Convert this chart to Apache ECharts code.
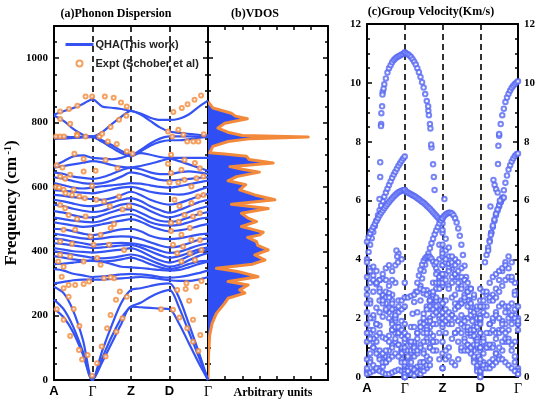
<!DOCTYPE html>
<html>
<head>
<meta charset="utf-8">
<script src="https://cdn.jsdelivr.net/npm/echarts@6/dist/echarts.min.js"></script>
<style>
  html, body { margin: 0; padding: 0; background: #fff; }
  #main { width: 538px; height: 400px; }
</style>
</head>
<body>
<div id="main"></div>
<script>
// path positions A, Γ, Z, D, Γ -> 0..4
var pathLabels = ['A', 'Γ', 'Z', 'D', 'Γ'];

// (a) dispersion: frequency (cm-1) of each band sampled at these path points
var bandK = [0, 0.25, 0.5, 0.75, 1, 1.25, 1.5, 1.75, 2, 2.25, 2.5, 2.75, 3, 3.25, 3.5, 3.75, 4];
var bandFreqs = [
  [825, 835, 845, 858, 872, 850, 846, 842, 836, 828, 815, 808, 808, 812, 825, 848, 868],
  [822, 805, 780, 762, 757, 770, 795, 818, 836, 825, 805, 785, 772, 768, 765, 762, 760],
  [757, 756, 755, 756, 757, 745, 730, 712, 700, 715, 735, 750, 757, 757, 757, 756, 755],
  [750, 750, 752, 754, 755, 740, 722, 705, 695, 710, 728, 740, 745, 745, 748, 752, 755],
  [665, 680, 695, 698, 690, 688, 686, 690, 700, 705, 700, 693, 690, 690, 690, 690, 690],
  [660, 665, 670, 675, 680, 676, 668, 662, 660, 665, 672, 680, 688, 680, 670, 660, 650],
  [645, 640, 632, 628, 625, 630, 640, 652, 660, 655, 645, 640, 640, 645, 648, 645, 640],
  [630, 625, 618, 612, 610, 612, 620, 632, 645, 640, 630, 622, 620, 622, 625, 628, 630],
  [612, 605, 598, 595, 598, 602, 605, 608, 612, 610, 605, 600, 598, 602, 608, 614, 620],
  [590, 588, 585, 582, 580, 585, 592, 598, 600, 594, 585, 580, 578, 576, 580, 590, 600],
  [575, 572, 568, 565, 562, 560, 565, 575, 585, 575, 560, 550, 545, 550, 560, 570, 578],
  [560, 555, 548, 542, 540, 545, 552, 560, 565, 556, 540, 528, 520, 528, 540, 552, 560],
  [545, 540, 532, 526, 522, 525, 535, 545, 548, 540, 525, 512, 505, 512, 522, 532, 540],
  [525, 520, 512, 506, 505, 512, 522, 530, 530, 520, 505, 495, 492, 495, 505, 515, 522],
  [505, 500, 495, 492, 490, 495, 505, 512, 515, 505, 490, 482, 480, 482, 490, 500, 505],
  [490, 485, 480, 476, 478, 484, 490, 495, 500, 492, 478, 468, 462, 465, 470, 478, 485],
  [470, 468, 462, 455, 450, 455, 462, 468, 470, 462, 448, 440, 438, 440, 446, 452, 455],
  [455, 450, 445, 440, 438, 440, 445, 446, 445, 438, 428, 418, 412, 415, 425, 435, 440],
  [440, 436, 430, 425, 420, 422, 425, 426, 425, 420, 412, 402, 395, 398, 408, 418, 425],
  [425, 422, 418, 414, 410, 412, 415, 418, 420, 412, 400, 388, 380, 385, 395, 405, 412],
  [410, 405, 400, 398, 396, 398, 402, 405, 410, 400, 385, 372, 365, 372, 385, 398, 405],
  [400, 395, 390, 385, 380, 378, 380, 385, 390, 384, 372, 360, 352, 358, 372, 385, 395],
  [385, 380, 375, 372, 370, 368, 370, 375, 380, 372, 360, 350, 345, 350, 360, 368, 370],
  [360, 362, 365, 368, 372, 368, 360, 352, 350, 348, 345, 342, 340, 342, 350, 360, 368],
  [345, 340, 330, 325, 320, 322, 325, 328, 330, 328, 325, 320, 318, 320, 325, 332, 340],
  [300, 305, 310, 312, 312, 312, 314, 316, 318, 320, 318, 314, 310, 308, 308, 312, 320],
  [222, 195, 148, 80, 0, 55, 115, 175, 228, 226, 224, 222, 220, 175, 115, 55, 0],
  [250, 220, 165, 88, 0, 68, 135, 192, 228, 240, 258, 272, 280, 225, 150, 75, 0],
  [290, 270, 215, 125, 0, 90, 170, 240, 280, 285, 292, 298, 300, 255, 175, 90, 0]
];

// experiment points [path position, frequency]
var exptPts = [
  [0.16, 834], [0.39, 842], [0.61, 852], [0.82, 881], [0.99, 881], [1.32, 881], [1.55, 877], [1.74, 862], [1.89, 850],
  [0.16, 811], [0.42, 796], [0.6, 764], [0.05, 757], [0.16, 757], [0.26, 757], [0.6, 760], [0.82, 757], [1.18, 757],
  [1.25, 765], [1.47, 786], [1.69, 809], [1.88, 821], [1.4, 741], [1.63, 733], [1.89, 710], [2.04, 703],
  [3.1, 833], [3.32, 845], [3.47, 857], [3.65, 871], [3.82, 884],
  [2.96, 772], [3.23, 778], [3.07, 757], [3.36, 762], [3.46, 741], [3.62, 741], [3.75, 741], [3.89, 764],
  [0.53, 703], [0.77, 687], [1.34, 684], [1.65, 658], [1.08, 650], [0.16, 632], [0.29, 625], [0.42, 638], [0.77, 648],
  [0.99, 603], [0.25, 591], [0.51, 591], [1.69, 570], [0.16, 544], [0.29, 534], [0.38, 513], [0.6, 500], [0.82, 508], [1.56, 485],
  [0.07, 667], [0.22, 660], [0.05, 600], [0.13, 598], [0.3, 580], [0.47, 575], [0.66, 570], [0.8, 565], [1.1, 560],
  [1.3, 555], [1.45, 540], [1.78, 530], [1.95, 540],
  [3.04, 700], [3.39, 684], [3.66, 674], [3.79, 658], [2.96, 672], [3.31, 653], [3.04, 643], [3.39, 622], [3.57, 601],
  [3.7, 627], [3.88, 632], [3.23, 614], [3.0, 614], [3.13, 560], [3.26, 541], [3.57, 550], [3.74, 570], [3.88, 575],
  [3.39, 513], [3.61, 508], [3.79, 518], [3.04, 489], [3.24, 492],
  [0.25, 467], [0.55, 467], [0.95, 446], [1.21, 451], [1.47, 472], [0.16, 430], [0.47, 423], [1.03, 420], [1.43, 420],
  [1.82, 404], [0.16, 389], [0.42, 384], [0.77, 368], [1.12, 379], [1.21, 358], [0.2, 321], [0.38, 295], [0.55, 295],
  [0.77, 298], [1.3, 316], [1.56, 316], [0.11, 368], [0.25, 352],
  [3.31, 368], [3.66, 373], [3.2, 394], [3.53, 394], [3.83, 404], [3.57, 435], [3.79, 435], [3.31, 451], [3.04, 463],
  [3.53, 472], [3.09, 420], [3.35, 415],
  [0.07, 220], [0.25, 187], [0.42, 137], [0.65, 93], [0.73, 64], [0.87, 78], [0.99, 13], [0.66, 168], [0.51, 221],
  [0.38, 259], [0.25, 285], [1.12, 52], [1.24, 104], [1.34, 73], [1.38, 161], [1.47, 202], [1.61, 249], [1.71, 275],
  [1.62, 150], [1.78, 192], [1.89, 259], [0.91, 306], [1.47, 319],
  [2.78, 220], [3.09, 218], [3.26, 194], [3.46, 161], [3.61, 119], [3.75, 90], [3.8, 140], [3.2, 280], [3.42, 283],
  [3.51, 246], [3.61, 187], [3.7, 290], [3.83, 308], [3.44, 301]
];

// (b) VDOS profile: frequency and density (arb. units)
var dosFreq = [0, 78, 140, 176, 207, 239, 254, 270, 280, 295, 306, 321, 337, 347, 360, 373, 389, 404, 418, 430,
  443, 451, 459, 468, 477, 492, 503, 518, 533, 546, 560, 575, 591, 607, 619, 632, 646, 655, 663, 674,
  685, 695, 702, 706, 726, 741, 750, 755, 760, 770, 783, 798, 812, 820, 829, 845, 865];
var dosVal = [0, 0.03, 0.1, 0.24, 0.49, 0.98, 1.17, 2.15, 1.85, 2.34, 1.17, 2.92, 1.73, 0.49, 2.6, 3.32, 2.73, 3.51, 2.9, 2.83,
  2.31, 3.03, 3.22, 2.6, 1.95, 2.83, 2.34, 1.95, 3.51, 1.37, 3.9, 2.73, 1.85, 2.2, 1.17, 1.66, 3.0, 2.0, 1.28, 3.8,
  2.4, 2.24, 0.98, 0.1, 0.28, 1.17, 2.5, 5.85, 2.0, 1.15, 0.58, 0.98, 2.3, 1.6, 1.36, 0.29, 0];

// (c) group velocity (km/s): branches per path segment, spread evenly over the segment
var gvAG = [
  [null, null, null, null, null, null, null, null, null, 8.6, 9.7, 9.95, 10.15, 10.35, 10.5, 10.6, 10.7, 10.78, 10.83, 10.87, 10.9, 10.93, 10.96, 10.98, 11.03],
  [4.0, 4.25, 4.5, 4.72, 4.93, 5.13, 5.32, 5.5, 5.67, 5.83, 5.98, 6.13, 6.27, 6.4, 6.53, 6.65, 6.77, 6.88, 6.98, 7.08, 7.18, 7.27, 7.35, 7.43, 7.5],
  [4.6, 4.75, 4.88, 5.0, 5.1, 5.2, 5.3, 5.4, 5.5, 5.58, 5.66, 5.74, 5.81, 5.88, 5.95, 6.02, 6.08, 6.14, 6.19, 6.24, 6.28, 6.31, 6.33, 6.35, 6.36],
  [3.9, 3.7, 3.45, 3.2, 3.0, 2.75, 2.5, 2.2, 1.9, 1.5, 1.1, 0.6, 0.1],
  [2.2, 2.6, 2.9, 3.15, 3.3, 3.35, 3.3, 3.1, 2.8, 2.3, 1.7, 0.9, 0.0],
  [1.2, 1.6, 2.0, 2.35, 2.6, 2.8, 2.9, 2.85, 2.6, 2.2, 1.6, 0.9, 0.2],
  [0.2, 0.6, 1.0, 1.4, 1.75, 2.05, 2.25, 2.35, 2.3, 2.05, 1.6, 1.0, 0.3],
  [3.4, 3.6, 3.75, 3.6, 3.3, 3.5, 3.7, 3.8, 3.6, 3.2, 2.6, 1.9, 1.2],
  [1.8, 1.5, 1.2, 0.9, 0.7, 0.6, 0.7, 0.9, 1.1, 1.2, 1.1, 0.8, 0.4],
  [0.1, 0.15, 0.2, 0.25, 0.3, 0.35, 0.5, 0.7, 1.0, 1.3, 1.5, 1.4, 0.9],
  [2.8, 2.5, 2.1, 1.8, 1.5, 1.35, 1.3, 1.4, 1.6, 1.9, 2.2, 2.3, 1.8],
  [0.6, 0.5, 0.4, 0.3, 0.2, 0.15, 0.1, 0.1, 0.15, 0.2, 0.25, 0.2, 0.1],
  [null, null, null, null, null, null, null, null, 3.3, 3.8, 4.2, 4.0, 3.2],
  [2.5, 2.0, 1.6, 1.2, 0.9, 0.8, 0.9, 1.2, 1.6, 2.0, 2.4, 2.6, 2.4],
  [0.3, 0.8, 1.3, 1.8, 2.2, 2.5, 2.7, 2.7, 2.5, 2.1, 1.5, 0.8, 0.0],
  [1.5, 1.3, 1.0, 0.8, 0.6, 0.5, 0.5, 0.6, 0.7, 0.8, 0.7, 0.5, 0.2],
  [3.0, 3.2, 3.3, 3.2, 2.9, 2.6, 2.3, 2.0, 1.8, 1.7, 1.7, 1.6, 1.3]
];
var gvGZ = [
  [11.03, 11.0, 10.97, 10.93, 10.88, 10.8, 10.72, 10.62, 10.5, 10.36, 10.2, 10.02, 9.84, 9.62, 9.38, 9.05, 8.6, 7.8, null, null, null, null, null, null, null],
  [6.36, 6.3, 6.27, 6.24, 6.21, 6.18, 6.15, 6.12, 6.08, 6.04, 6.0, 5.96, 5.92, 5.87, 5.82, 5.77, 5.72, 5.66, 5.6, 5.54, 5.48, 5.42, 5.36, 5.29, 5.22],
  [null, null, null, null, null, null, null, null, null, null, 3.1, 3.35, 3.6, 3.82, 4.02, 4.2, 4.38, 4.55, 4.7, 4.85, 4.98, 5.1, 5.22, 5.32, 5.4],
  [null, null, null, 1.2, 1.7, 2.15, 2.55, 2.9, 3.2, 3.45, 3.65, 3.82, 3.95, 4.04, 4.09, 4.1, 4.08, 4.02, 3.93, 3.82, 3.7, 3.57, 3.44, 3.3, 3.15],
  [0.0, 0.5, 1.1, 1.7, 2.2, 2.6, 2.85, 2.95, 2.85, 2.6, 2.3, 2.0, 1.8],
  [0.0, 0.3, 0.7, 1.1, 1.5, 1.85, 2.15, 2.4, 2.6, 2.7, 2.6, 2.3, 2.0],
  [2.7, 2.7, 2.75, 2.8, 2.9, 3.0, 2.95, 2.8, 2.6, 2.4, 2.3, 2.25, 2.2],
  [0.0, 0.1, 0.2, 0.3, 0.35, 0.4, 0.5, 0.7, 1.0, 1.4, 1.8, 2.1, 2.2],
  [0.2, 0.15, 0.1, 0.05, 0.2, 0.5, 0.9, 1.3, 1.7, 2.1, 2.4, 2.6, 2.5],
  [1.0, 0.9, 0.8, 0.7, 0.8, 1.1, 1.5, 1.9, 2.3, 2.7, 3.0, 3.2, 3.1],
  [0.5, 0.7, 0.9, 1.2, 1.5, 1.7, 1.8, 1.7, 1.5, 1.2, 0.9, 0.6, 0.3],
  [null, null, null, null, null, null, 0.5, 1.2, 2.0, 2.8, 3.5, 4.0, 4.3],
  [null, null, null, null, null, 0.2, 0.8, 1.6, 2.4, 3.2, 3.9, 4.5, 4.9],
  [null, null, null, null, null, null, null, 0.3, 1.0, 1.8, 2.6, 3.3, 3.8],
  [0.1, 0.2, 0.3, 0.25, 0.15, 0.1, 0.2, 0.4, 0.6, 0.9, 1.2, 1.5, 1.7],
  [0.0, 0.2, 0.5, 0.9, 1.3, 1.7, 2.0, 2.3, 2.6, 2.9, 3.2, 3.4, 3.5],
  [1.5, 1.4, 1.2, 1.0, 0.9, 1.0, 1.2, 1.5, 1.9, 2.3, 2.7, 3.0, 3.3],
  [null, null, null, null, null, null, null, null, 0.4, 1.2, 2.2, 3.2, 4.1]
];
var gvZD = [
  [5.4, 5.47, 5.52, 5.56, 5.58, 5.58, 5.56, 5.5, 5.4, 5.25, 5.05, 4.8, 4.5, 4.15, 3.78, 3.4, 3.0, 2.62, 2.25, 1.9, 1.6, 1.3, 1.0, 0.7, 0.4],
  [3.8, 3.9, 3.85, 3.7, 3.4, 3.0, 2.5, 2.0, 1.5, 1.0, 0.6, 0.3, 0.1],
  [2.0, 2.6, 3.1, 3.4, 3.5, 3.4, 3.1, 2.6, 2.0, 1.4, 0.9, 0.5, 0.2],
  [4.5, 4.3, 4.1, 3.8, 3.5, 3.2, 3.0, 2.8, 2.6, 2.4, 2.1, 1.8, 1.5],
  [1.2, 1.5, 1.8, 2.1, 2.3, 2.5, 2.6, 2.6, 2.4, 2.1, 1.7, 1.3, 0.9],
  [2.5, 2.3, 2.2, 2.1, 2.0, 1.9, 1.8, 1.7, 1.6, 1.5, 1.4, 1.2, 1.0],
  [0.3, 0.6, 1.0, 1.3, 1.5, 1.6, 1.5, 1.3, 1.1, 0.9, 0.7, 0.4, 0.1],
  [3.2, 3.5, 3.7, 3.9, 4.0, 3.9, 3.7, 3.3, 2.9, 2.5, 2.2, 2.0, 2.1],
  [0.8, 0.9, 0.7, 0.5, 0.4, 0.6, 0.9, 1.2, 1.1, 0.8, 0.5, 0.2, 0.0],
  [5.0, 4.7, 4.4, 4.1, 3.8, 3.6, 3.4, 3.3, 3.2, 3.0, 2.7, 2.3, 1.9],
  [3.5, 3.3, 3.0, 2.7, 2.5, 2.4, 2.5, 2.7, 2.9, 3.0, 2.8, 2.4, 2.0],
  [1.8, 1.9, 2.0, 1.8, 1.5, 1.2, 1.0, 0.9, 0.9, 1.0, 1.1, 1.1, 1.0],
  [4.2, 4.0, 3.6, 3.2, 2.8, 2.4, 2.1, 1.9, 1.7, 1.6, 1.6, 1.7, 1.8]
];
var gvDG = [
  [null, null, null, null, null, null, null, null, null, null, null, null, 8.2, 8.6, 8.9, 9.12, 9.35, 9.5, 9.63, 9.74, 9.83, 9.9, 9.96, 10.01, 10.05],
  [null, null, null, 3.9, 4.15, 4.4, 4.65, 4.9, 5.1, 5.3, 5.5, 5.65, 5.8, 5.95, 6.1, 6.35, 6.6, 6.85, 7.05, 7.2, 7.33, 7.43, 7.51, 7.57, 7.6],
  [null, null, null, null, null, 4.3, 4.6, 4.9, 5.15, 5.35, 5.55, 5.7, 5.85, 5.95, 6.05, 6.1, null, null, null, null, null, null, null, null, null],
  [0.0, 0.5, 1.0, 1.5, 1.9, 2.2, 2.4, 2.5, 2.4, 2.2, 1.8, 1.2, 0.3],
  [2.0, 2.2, 2.4, 2.6, 2.8, 3.0, 3.3, 3.6, 3.9, 4.1, 3.9, 3.2, 2.0],
  [1.5, 1.3, 1.1, 1.0, 1.1, 1.3, 1.6, 1.9, 2.2, 2.4, 2.5, 2.3, 1.8],
  [0.5, 0.8, 1.0, 1.1, 1.0, 0.8, 0.7, 0.9, 1.2, 1.6, 2.0, 2.1, 1.8],
  [3.0, 2.9, 2.8, 2.7, 2.6, 2.7, 2.9, 3.1, 3.3, 3.4, 3.3, 2.9, 2.4],
  [0.2, 0.3, 0.4, 0.5, 0.6, 0.8, 1.0, 1.2, 1.3, 1.3, 1.1, 0.7, 0.2],
  [2.6, 2.4, 2.1, 1.8, 1.6, 1.5, 1.5, 1.6, 1.8, 2.0, 2.1, 2.0, 1.6],
  [1.0, 1.2, 1.5, 1.8, 2.0, 2.1, 2.0, 1.8, 1.5, 1.2, 0.9, 0.5, 0.1],
  [2.4, 2.6, 2.9, 3.2, 3.4, 3.5, 3.6, 3.7, 3.8, 3.7, 3.4, 2.8, 1.9],
  [0.6, 0.4, 0.3, 0.3, 0.4, 0.5, 0.6, 0.6, 0.5, 0.4, 0.3, 0.2, 0.1]
];
// loose points on the steep parts
var gvExtra = [
  [0.35, 7.3], [0.35, 6.8], [0.33, 6.05], [0.37, 8.53], [0.38, 8.97], [0.4, 9.2], [0.41, 9.6], [0.44, 9.8],
  [1.62, 9.2], [1.64, 8.9], [1.68, 8.45], [1.7, 7.9], [1.75, 7.23], [1.77, 6.8], [1.79, 6.36],
  [3.48, 7.86], [3.5, 8.26], [3.47, 7.24], [3.35, 6.7], [3.38, 6.53], [3.42, 6.38], [3.46, 6.27], [3.52, 6.0],
  [0.78, 4.3], [0.8, 4.1], [0.82, 3.9], [2.05, 6.05], [3.27, 5.8], [3.28, 4.83]
];

var blue = '#3553f2';
var orange = '#f3893b';
var gvBlue = '#5566f2';
var serif = '"Liberation Serif", "DejaVu Serif", serif';
var sans = '"Liberation Sans", Arial, sans-serif';

var chart = echarts.init(document.getElementById('main'));

function pathLabel(v) {
  var s = pathLabels[Math.round(v)];
  return s === 'Γ' ? '{g|Γ}' : '{s|' + s + '}';
}
var pathRich = {
  s: { fontFamily: sans, fontWeight: 'bold', fontSize: 13, color: '#000' },
  g: { fontFamily: serif, fontSize: 14, color: '#000' }
};
var frame = { show: true, onZero: false, lineStyle: { color: '#000', width: 2 } };
var dashed = { show: true, lineStyle: { color: '#000', width: 1.6, type: [6, 4] } };

function pathAxis(grid, pos, labels) {
  return {
    type: 'value', gridIndex: grid, position: pos, min: 0, max: 4, interval: 1,
    axisLine: frame, axisTick: { show: false },
    axisLabel: { show: labels, formatter: pathLabel, rich: pathRich, margin: 5 },
    splitLine: labels ? dashed : { show: false }
  };
}
function boxY(grid, pos, max, step, minorSplit, labelFn) {
  return {
    type: 'value', gridIndex: grid, position: pos, min: 0, max: max, interval: step,
    axisLine: frame,
    axisTick: { show: true, inside: true, length: 5, lineStyle: { width: 1.5, color: '#000' } },
    minorTick: { show: true, splitNumber: minorSplit, length: 3, lineStyle: { width: 1.5, color: '#000' } },
    axisLabel: labelFn ? { show: true, formatter: labelFn, fontFamily: serif, fontWeight: 'bold', fontSize: 11, color: '#000', margin: 6 } : { show: false },
    splitLine: { show: false }
  };
}

var series = [];
bandFreqs.forEach(function (band) {
  series.push({
    type: 'line', name: 'QHA(This work)', xAxisIndex: 0, yAxisIndex: 0,
    data: bandK.map(function (k, i) { return [k, band[i]]; }),
    smooth: 0.3, symbol: 'none', silent: true, z: 2,
    itemStyle: { color: blue },
    lineStyle: { color: blue, width: 2.2 }
  });
});
series.push({
  type: 'scatter', name: 'Expt (Schober et al)', xAxisIndex: 0, yAxisIndex: 0,
  data: exptPts, symbol: 'emptyCircle', symbolSize: 4, z: 3, silent: true,
  itemStyle: { color: orange, borderWidth: 1.2 }
});

series.push({
  type: 'custom', xAxisIndex: 2, yAxisIndex: 2, silent: true, clip: true,
  data: dosFreq.map(function (f, i) { return [dosVal[i], f]; }),
  renderItem: function (params, api) {
    if (params.dataIndex !== 0) return null;
    var pts = dosFreq.map(function (f, i) { return api.coord([dosVal[i], f]); });
    var fillPts = [api.coord([0, dosFreq[0]])].concat(pts, [api.coord([0, dosFreq[dosFreq.length - 1]])]);
    return {
      type: 'group',
      children: [
        { type: 'polygon', shape: { points: fillPts }, style: { fill: '#2f4ff5' } },
        { type: 'polyline', shape: { points: pts }, style: { stroke: orange, lineWidth: 3, fill: null, lineJoin: 'round' } }
      ]
    };
  }
});

var gvData = [];
[gvAG, gvGZ, gvZD, gvDG].forEach(function (seg, s) {
  seg.forEach(function (branch) {
    var n = branch.length - 1;
    branch.forEach(function (v, i) {
      if (v !== null) gvData.push([s + i / n, v]);
    });
  });
});
gvExtra.forEach(function (p) { gvData.push(p); });
series.push({
  type: 'scatter', xAxisIndex: 4, yAxisIndex: 4, data: gvData, silent: true,
  symbol: 'emptyCircle', symbolSize: 4.5, z: 2,
  itemStyle: { color: gvBlue, borderWidth: 1 }
});

var titleFont = 'bold 12px ' + serif;
chart.setOption({
  animation: false,
  backgroundColor: '#fff',
  grid: [
    { left: 54, top: 26, width: 154, height: 354 },
    { left: 208, top: 26, width: 120, height: 354 },
    { left: 367, top: 24, width: 151, height: 353 }
  ],
  xAxis: [
    pathAxis(0, 'bottom', true),
    pathAxis(0, 'top', false),
    {
      type: 'value', gridIndex: 1, position: 'bottom', min: 0, max: 7, interval: 1,
      axisLine: frame, axisLabel: { show: false }, splitLine: { show: false },
      axisTick: { show: true, inside: true, length: 4, lineStyle: { width: 1.5, color: '#000' } }
    },
    {
      type: 'value', gridIndex: 1, position: 'top', min: 0, max: 7, interval: 1,
      axisLine: frame, axisLabel: { show: false }, splitLine: { show: false },
      axisTick: { show: true, inside: true, length: 4, lineStyle: { width: 1.5, color: '#000' } }
    },
    pathAxis(2, 'bottom', true),
    pathAxis(2, 'top', false)
  ],
  yAxis: [
    Object.assign(boxY(0, 'left', 1100, 200, 4, function (v) { return v % 200 === 0 && v <= 1000 ? v : ''; }), {
      name: '{a|Frequency (cm}{s| -1}{a|)}', nameLocation: 'middle', nameRotate: 90, nameGap: 34,
      nameTextStyle: {
        rich: {
          a: { fontFamily: serif, fontWeight: 'bold', fontSize: 17, color: '#000' },
          s: { fontFamily: serif, fontWeight: 'bold', fontSize: 10, color: '#000', verticalAlign: 'top' }
        }
      }
    }),
    boxY(0, 'right', 1100, 200, 4, null),
    boxY(1, 'left', 1100, 200, 4, null),
    boxY(1, 'right', 1100, 200, 4, null),
    boxY(2, 'left', 12, 2, 4, function (v) { return v; }),
    boxY(2, 'right', 12, 2, 4, function (v) { return v; })
  ],
  legend: {
    data: [
      { name: 'QHA(This work)', itemStyle: { color: 'rgba(0,0,0,0)', borderWidth: 0 }, lineStyle: { color: blue, width: 3 } },
      { name: 'Expt (Schober et al)', icon: 'emptyCircle' }
    ],
    orient: 'vertical', left: 59, top: 34, itemWidth: 28, itemHeight: 6, itemGap: 8,
    selectedMode: false,
    textStyle: { fontFamily: sans, fontWeight: 'bold', fontSize: 11, color: '#222', padding: [0, 0, 0, -3] }
  },
  graphic: [
    { type: 'text', x: 116, y: 14, style: { text: '(a)Phonon Dispersion', font: titleFont, fill: '#000', align: 'center', verticalAlign: 'middle' } },
    { type: 'text', x: 255, y: 14, style: { text: '(b)VDOS', font: titleFont, fill: '#000', align: 'center', verticalAlign: 'middle' } },
    { type: 'text', x: 431, y: 12, style: { text: '(c)Group Velocity(Km/s)', font: titleFont, fill: '#000', align: 'center', verticalAlign: 'middle' } },
    { type: 'text', x: 273, y: 393, style: { text: 'Arbitrary units', font: 'bold 12px ' + serif, fill: '#000', align: 'center', verticalAlign: 'middle' } }
  ],
  series: series
});
</script>
</body>
</html>
